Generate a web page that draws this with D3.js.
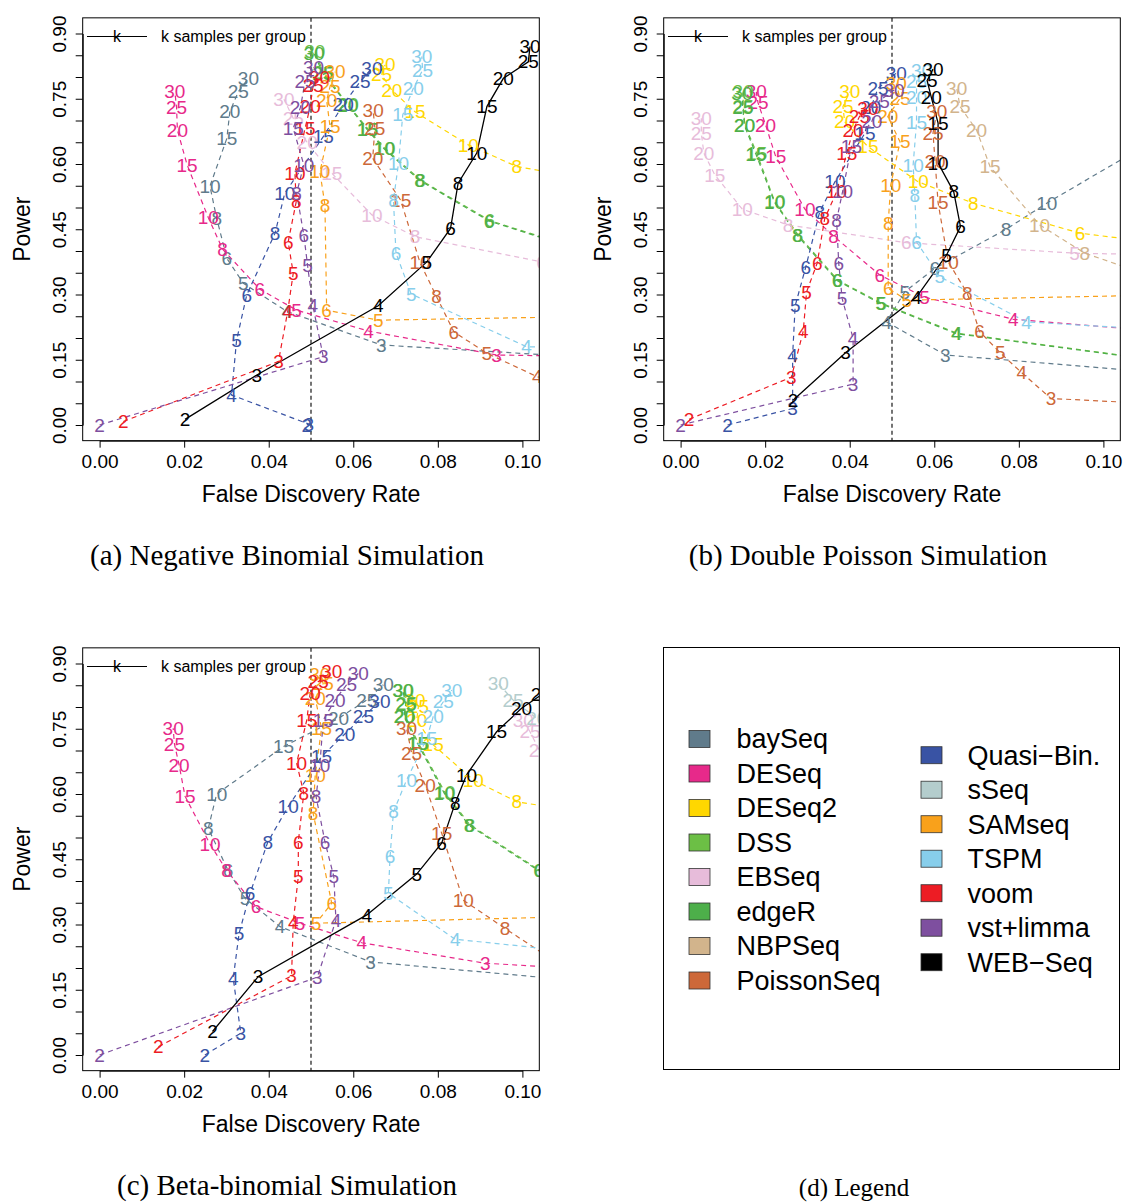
<!DOCTYPE html>
<html>
<head>
<meta charset="utf-8">
<script src="https://cdn.jsdelivr.net/npm/d3@7"></script>
<style>
  body { margin: 0; background: #fff; }
  svg { display: block; font-family: 'Liberation Sans', Arial, sans-serif; }
  .caption { font-family: 'Liberation Serif', 'Times New Roman', serif; }
</style>
</head>
<body>
<div id="chart"></div>
<script>
// methods, in legend order, and their colours
const methods = ['baySeq', 'DESeq', 'DESeq2', 'DSS', 'EBSeq', 'edgeR', 'NBPSeq', 'PoissonSeq',
  'Quasi−Bin.', 'sSeq', 'SAMseq', 'TSPM', 'voom', 'vst+limma', 'WEB−Seq'];
const colors = ['#607B8B', '#E7298A', '#FFD700', '#6CBF45', '#E7BCDA', '#4DAF4A', '#D2B48C', '#CD6839',
  '#3953A4', '#B4CDCD', '#F9A11B', '#87CEEB', '#ED1C24', '#7E4F9F', '#000000'];

const fdrTicks = [0, 0.02, 0.04, 0.06, 0.08, 0.10];
const powerTicks = [0, 0.05, 0.10, 0.15, 0.20, 0.25, 0.30, 0.35, 0.40, 0.45, 0.50,
  0.55, 0.60, 0.65, 0.70, 0.75, 0.80, 0.85, 0.90];
const powerLabels = [0, 0.15, 0.30, 0.45, 0.60, 0.75, 0.90];

// [k, FDR, power] per method
const negBinomial = {
  'baySeq': [[2, 0.125, 0.15], [3, 0.0666, 0.184], [4, 0.0443, 0.261], [5, 0.034, 0.326], [6, 0.0301, 0.383], [8, 0.0277, 0.475], [10, 0.0261, 0.549], [15, 0.0301, 0.659], [20, 0.0308, 0.720], [25, 0.0328, 0.766], [30, 0.0352, 0.797]],
  'DESeq': [[2, 0.13, 0.155], [3, 0.0939, 0.161], [4, 0.0636, 0.216], [5, 0.0466, 0.264], [6, 0.0379, 0.312], [8, 0.0291, 0.404], [10, 0.0257, 0.477], [15, 0.0207, 0.598], [20, 0.0184, 0.678], [25, 0.0182, 0.730], [30, 0.0178, 0.766]],
  'DESeq2': [[6, 0.125, 0.55], [8, 0.0987, 0.594], [10, 0.0872, 0.644], [15, 0.0746, 0.720], [20, 0.0691, 0.770], [25, 0.0667, 0.805], [30, 0.0675, 0.828]],
  'DSS': [[5, 0.115, 0.40], [6, 0.0923, 0.470], [8, 0.0759, 0.563], [10, 0.0675, 0.636], [15, 0.0635, 0.68], [20, 0.0588, 0.736], [25, 0.053, 0.81], [30, 0.0509, 0.858]],
  'EBSeq': [[5, 0.12, 0.34], [6, 0.1045, 0.375], [8, 0.0746, 0.433], [10, 0.0644, 0.483], [15, 0.0549, 0.579], [20, 0.0491, 0.649], [25, 0.0458, 0.705], [30, 0.0436, 0.749]],
  'edgeR': [[5, 0.1148, 0.399], [6, 0.0921, 0.469], [8, 0.0757, 0.562], [10, 0.0673, 0.635], [15, 0.0633, 0.679], [20, 0.0587, 0.735], [25, 0.0528, 0.808], [30, 0.0507, 0.855]],
  'PoissonSeq': [[3, 0.115, 0.08], [4, 0.1035, 0.111], [5, 0.0916, 0.165], [6, 0.0838, 0.214], [8, 0.0797, 0.295], [10, 0.0758, 0.373], [15, 0.0712, 0.517], [20, 0.0646, 0.613], [25, 0.0651, 0.682], [30, 0.0647, 0.724]],
  'Quasi−Bin.': [[2, 0.049, 0.0], [3, 0.0495, 0.002], [4, 0.0312, 0.069], [5, 0.0324, 0.195], [6, 0.0348, 0.299], [8, 0.0415, 0.441], [10, 0.0438, 0.533], [15, 0.0529, 0.663], [20, 0.0576, 0.736], [25, 0.0616, 0.789], [30, 0.0644, 0.820]],
  'SAMseq': [[4, 0.12, 0.25], [5, 0.0659, 0.241], [6, 0.0537, 0.264], [8, 0.0533, 0.506], [10, 0.0521, 0.582], [15, 0.0545, 0.686], [20, 0.0537, 0.746], [25, 0.0545, 0.778], [30, 0.0557, 0.812]],
  'TSPM': [[3, 0.12, 0.175], [4, 0.101, 0.180], [5, 0.0737, 0.301], [6, 0.0701, 0.395], [8, 0.0695, 0.517], [10, 0.0707, 0.602], [15, 0.0717, 0.713], [20, 0.0742, 0.774], [25, 0.0764, 0.816], [30, 0.0762, 0.847]],
  'voom': [[2, 0.0056, 0.008], [3, 0.0423, 0.146], [4, 0.0445, 0.262], [5, 0.0458, 0.349], [6, 0.0446, 0.421], [8, 0.0465, 0.513], [10, 0.0462, 0.579], [15, 0.0486, 0.682], [20, 0.0498, 0.732], [25, 0.0505, 0.78], [30, 0.052, 0.80]],
  'vst+limma': [[2, 0.0, 0.0], [3, 0.0529, 0.157], [4, 0.0504, 0.276], [5, 0.0492, 0.366], [6, 0.0483, 0.437], [8, 0.0466, 0.533], [10, 0.0483, 0.598], [15, 0.0458, 0.682], [20, 0.0475, 0.73], [25, 0.0486, 0.789], [30, 0.0506, 0.822]],
  'WEB−Seq': [[2, 0.0202, 0.013], [3, 0.0372, 0.115], [4, 0.0659, 0.274], [5, 0.0774, 0.375], [6, 0.0830, 0.452], [8, 0.0848, 0.556], [10, 0.0892, 0.625], [15, 0.0916, 0.732], [20, 0.0955, 0.797], [25, 0.1014, 0.835], [30, 0.1018, 0.870]],
};

const doublePoisson = {
  'baySeq': [[2, 0.12, 0.115], [3, 0.0626, 0.161], [4, 0.0487, 0.237], [5, 0.0530, 0.306], [6, 0.0601, 0.360], [8, 0.0770, 0.450], [10, 0.0866, 0.510], [15, 0.12, 0.70]],
  'DESeq': [[3, 0.12, 0.21], [4, 0.0787, 0.243], [5, 0.0577, 0.294], [6, 0.0471, 0.345], [8, 0.0362, 0.434], [10, 0.0294, 0.496], [15, 0.0225, 0.617], [20, 0.0201, 0.690], [25, 0.0183, 0.741], [30, 0.0179, 0.766]],
  'DESeq2': [[5, 0.12, 0.41], [6, 0.0945, 0.441], [8, 0.0692, 0.510], [10, 0.0562, 0.559], [15, 0.0443, 0.640], [20, 0.0388, 0.697], [25, 0.0384, 0.732], [30, 0.040, 0.766]],
  'DSS': [[3, 0.12, 0.14], [4, 0.0654, 0.211], [5, 0.0475, 0.280], [6, 0.0372, 0.333], [8, 0.0278, 0.437], [10, 0.0223, 0.513], [15, 0.018, 0.625], [20, 0.0152, 0.690], [25, 0.0148, 0.732], [30, 0.0148, 0.766]],
  'EBSeq': [[4, 0.12, 0.39], [5, 0.0932, 0.395], [6, 0.0534, 0.419], [8, 0.0254, 0.460], [10, 0.0146, 0.496], [15, 0.0081, 0.575], [20, 0.0055, 0.625], [25, 0.0049, 0.671], [30, 0.0049, 0.705]],
  'edgeR': [[3, 0.12, 0.139], [4, 0.0652, 0.210], [5, 0.0473, 0.279], [6, 0.0370, 0.332], [8, 0.0276, 0.436], [10, 0.0222, 0.512], [15, 0.0178, 0.623], [20, 0.0151, 0.688], [25, 0.0147, 0.731], [30, 0.0145, 0.763]],
  'NBPSeq': [[6, 0.115, 0.33], [8, 0.0956, 0.395], [10, 0.0849, 0.460], [15, 0.0732, 0.594], [20, 0.0700, 0.678], [25, 0.0661, 0.732], [30, 0.0653, 0.774]],
  'PoissonSeq': [[2, 0.12, 0.045], [3, 0.0876, 0.061], [4, 0.0807, 0.120], [5, 0.0756, 0.166], [6, 0.0707, 0.215], [8, 0.0678, 0.303], [10, 0.0633, 0.375], [15, 0.0609, 0.511], [20, 0.0602, 0.605], [25, 0.0597, 0.671], [30, 0.0606, 0.720]],
  'Quasi−Bin.': [[2, 0.0111, 0.0], [3, 0.0265, 0.038], [4, 0.0265, 0.161], [5, 0.0271, 0.274], [6, 0.0296, 0.363], [8, 0.0329, 0.490], [10, 0.0365, 0.559], [15, 0.0436, 0.671], [20, 0.045, 0.73], [25, 0.0467, 0.774], [30, 0.0510, 0.809]],
  'SAMseq': [[4, 0.12, 0.30], [5, 0.0535, 0.287], [6, 0.0491, 0.314], [8, 0.0491, 0.464], [10, 0.0497, 0.552], [15, 0.0519, 0.651], [20, 0.049, 0.709], [25, 0.0519, 0.751], [30, 0.051, 0.785]],
  'TSPM': [[3, 0.12, 0.215], [4, 0.0818, 0.237], [5, 0.0613, 0.341], [6, 0.0558, 0.421], [8, 0.0554, 0.529], [10, 0.055, 0.598], [15, 0.0558, 0.695], [20, 0.0558, 0.753], [25, 0.0558, 0.789], [30, 0.057, 0.816]],
  'voom': [[2, 0.002, 0.013], [3, 0.0262, 0.110], [4, 0.0290, 0.215], [5, 0.0298, 0.306], [6, 0.0323, 0.372], [8, 0.0341, 0.475], [10, 0.0369, 0.536], [15, 0.0393, 0.625], [20, 0.0408, 0.678], [25, 0.0423, 0.709], [30, 0.0443, 0.728]],
  'vst+limma': [[2, 0.0, 0.0], [3, 0.0408, 0.094], [4, 0.0408, 0.199], [5, 0.0382, 0.291], [6, 0.0374, 0.372], [8, 0.0369, 0.471], [10, 0.0383, 0.536], [15, 0.0404, 0.640], [20, 0.0452, 0.697], [25, 0.047, 0.745], [30, 0.0505, 0.77]],
  'WEB−Seq': [[2, 0.0266, 0.057], [3, 0.0390, 0.166], [4, 0.0558, 0.294], [5, 0.0629, 0.391], [6, 0.0662, 0.456], [8, 0.0646, 0.536], [10, 0.0609, 0.602], [15, 0.0609, 0.694], [20, 0.0593, 0.753], [25, 0.0583, 0.792], [30, 0.0597, 0.818]],
};

const betaBinomial = {
  'baySeq': [[2, 0.12, 0.165], [3, 0.0641, 0.214], [4, 0.0427, 0.295], [5, 0.0344, 0.360], [6, 0.0304, 0.424], [8, 0.0257, 0.521], [10, 0.0277, 0.600], [15, 0.0435, 0.709], [20, 0.0565, 0.774], [25, 0.0632, 0.816], [30, 0.0671, 0.851]],
  'DESeq': [[2, 0.12, 0.195], [3, 0.0912, 0.211], [4, 0.0620, 0.258], [5, 0.0474, 0.303], [6, 0.0370, 0.341], [8, 0.030, 0.425], [10, 0.0261, 0.485], [15, 0.0202, 0.595], [20, 0.0188, 0.667], [25, 0.0177, 0.715], [30, 0.0174, 0.751]],
  'DESeq2': [[6, 0.12, 0.55], [8, 0.0987, 0.582], [10, 0.0884, 0.632], [15, 0.0789, 0.713], [20, 0.075, 0.770], [25, 0.0754, 0.801], [30, 0.0746, 0.816]],
  'DSS': [[5, 0.115, 0.38], [6, 0.104, 0.425], [8, 0.0876, 0.529], [10, 0.0817, 0.603], [15, 0.0754, 0.717], [20, 0.0722, 0.779], [25, 0.0726, 0.808], [30, 0.0719, 0.839]],
  'EBSeq': [[15, 0.115, 0.64], [20, 0.104, 0.701], [25, 0.1018, 0.743], [30, 0.1002, 0.770]],
  'edgeR': [[5, 0.1145, 0.379], [6, 0.1038, 0.424], [8, 0.0874, 0.528], [10, 0.0815, 0.602], [15, 0.0752, 0.716], [20, 0.0720, 0.778], [25, 0.0724, 0.807], [30, 0.0717, 0.838]],
  'PoissonSeq': [[6, 0.11, 0.2], [8, 0.0959, 0.291], [10, 0.086, 0.356], [15, 0.0809, 0.510], [20, 0.077, 0.621], [25, 0.0738, 0.694], [30, 0.0726, 0.751]],
  'Quasi−Bin.': [[2, 0.0249, 0.0], [3, 0.0334, 0.050], [4, 0.0316, 0.176], [5, 0.0330, 0.280], [6, 0.0356, 0.372], [8, 0.0398, 0.490], [10, 0.0446, 0.571], [15, 0.0525, 0.686], [20, 0.058, 0.738], [25, 0.0624, 0.779], [30, 0.0663, 0.812]],
  'sSeq': [[15, 0.115, 0.73], [20, 0.1034, 0.774], [25, 0.0978, 0.816], [30, 0.0943, 0.854]],
  'SAMseq': [[4, 0.12, 0.32], [5, 0.0512, 0.303], [6, 0.0549, 0.349], [8, 0.0505, 0.556], [10, 0.051, 0.644], [15, 0.0525, 0.751], [20, 0.051, 0.820], [25, 0.0529, 0.854], [30, 0.0521, 0.874]],
  'TSPM': [[3, 0.12, 0.23], [4, 0.0841, 0.266], [5, 0.0683, 0.372], [6, 0.0687, 0.456], [8, 0.0695, 0.559], [10, 0.0726, 0.632], [15, 0.0774, 0.728], [20, 0.0789, 0.778], [25, 0.0813, 0.812], [30, 0.0833, 0.839]],
  'voom': [[2, 0.0139, 0.019], [3, 0.0454, 0.182], [4, 0.0458, 0.306], [5, 0.0470, 0.410], [6, 0.0470, 0.490], [8, 0.0483, 0.602], [10, 0.0466, 0.671], [15, 0.049, 0.770], [20, 0.0498, 0.832], [25, 0.0517, 0.858], [30, 0.0549, 0.881]],
  'vst+limma': [[2, 0.0, 0.0], [3, 0.0515, 0.179], [4, 0.0559, 0.310], [5, 0.0554, 0.410], [6, 0.0533, 0.490], [8, 0.0512, 0.594], [10, 0.0521, 0.667], [15, 0.0529, 0.770], [20, 0.0557, 0.816], [25, 0.0584, 0.851], [30, 0.0612, 0.877]],
  'WEB−Seq': [[2, 0.0267, 0.054], [3, 0.0375, 0.180], [4, 0.0632, 0.322], [5, 0.075, 0.416], [6, 0.0809, 0.487], [8, 0.0841, 0.579], [10, 0.0868, 0.644], [15, 0.0939, 0.743], [20, 0.0998, 0.797], [25, 0.1045, 0.828], [30, 0.108, 0.86]],
};

const captions = ['(a) Negative Binomial Simulation', '(b) Double Poisson Simulation',
  '(c) Beta-binomial Simulation', '(d) Legend'];

const svg = d3.select('#chart')
  .append('svg')
  .attr('width', 1124)
  .attr('height', 1203);

const colorOf = d3.scaleOrdinal().domain(methods).range(colors);

function drawPanel(data, dx, dy, id, caption) {
  const g = svg.append('g').attr('transform', `translate(${dx}, ${dy})`);

  const x = d3.scaleLinear().domain([0, 0.1]).range([99.6, 522.4]);
  const y = d3.scaleLinear().domain([0, 0.9]).range([425, 33.5]);
  const box = { x0: x(-0.004), x1: x(0.104), y0: y(0.936), y1: y(-0.036) };

  g.append('clipPath')
    .attr('id', `clip-${id}`)
    .append('rect')
      .attr('x', box.x0)
      .attr('y', box.y0)
      .attr('width', box.x1 - box.x0)
      .attr('height', box.y1 - box.y0);

  // x axis
  const axisX = d3.axisBottom(x)
    .tickValues(fdrTicks)
    .tickFormat(d3.format('.2f'))
    .tickSize(7)
    .tickSizeOuter(0);
  const gx = g.append('g')
    .attr('transform', `translate(0, ${box.y1})`)
    .call(axisX);
  gx.selectAll('text')
    .attr('y', 14)
    .attr('font-size', 19)
    .attr('font-family', "'Liberation Sans', Arial, sans-serif")
    .attr('fill', '#000');

  // y axis, labels every third tick
  const axisY = d3.axisLeft(y)
    .tickValues(powerTicks)
    .tickFormat(d => (powerLabels.some(v => Math.abs(v - d) < 1e-6) ? d3.format('.2f')(d) : ''))
    .tickSize(7)
    .tickSizeOuter(0);
  const gy = g.append('g')
    .attr('transform', `translate(${box.x0}, 0)`)
    .call(axisY);
  gy.selectAll('text')
    .attr('transform', 'rotate(-90)')
    .attr('x', 0)
    .attr('y', -17)
    .attr('dy', 0)
    .attr('text-anchor', 'middle')
    .attr('font-size', 19)
    .attr('font-family', "'Liberation Sans', Arial, sans-serif")
    .attr('fill', '#000');
  g.selectAll('.domain').attr('stroke', '#000');
  g.selectAll('.tick line').attr('stroke', '#000');

  // axis titles
  g.append('text')
    .attr('x', (box.x0 + box.x1) / 2)
    .attr('y', 502)
    .attr('text-anchor', 'middle')
    .attr('font-size', 23)
    .text('False Discovery Rate');
  g.append('text')
    .attr('transform', `translate(30, ${(box.y0 + box.y1) / 2}) rotate(-90)`)
    .attr('text-anchor', 'middle')
    .attr('font-size', 23)
    .text('Power');

  const plot = g.append('g').attr('clip-path', `url(#clip-${id})`);

  // FDR = 0.05 reference line
  plot.append('line')
    .attr('x1', x(0.05))
    .attr('x2', x(0.05))
    .attr('y1', box.y0)
    .attr('y2', box.y1)
    .attr('stroke', '#000')
    .attr('stroke-width', 1.1)
    .attr('stroke-dasharray', '4,3');

  const line = d3.line()
    .x(d => x(d[1]))
    .y(d => y(d[2]));

  const series = methods.filter(m => data[m]);

  series.forEach(m => {
    plot.append('path')
      .datum(data[m])
      .attr('d', line)
      .attr('fill', 'none')
      .attr('stroke', colorOf(m))
      .attr('stroke-width', m === 'WEB−Seq' ? 1.3 : 1.2)
      .attr('stroke-dasharray', m === 'WEB−Seq' ? null : '5,4');
  });

  // labels of points beyond the plot edge are not drawn (they would be clipped away)
  series.forEach(m => {
    plot.append('g')
      .selectAll('text')
      .data(data[m].filter(d => d[1] <= 0.106))
      .enter()
      .append('text')
        .attr('x', d => x(d[1]))
        .attr('y', d => y(d[2]))
        .attr('dy', '0.35em')
        .attr('text-anchor', 'middle')
        .attr('font-size', 19)
        .attr('fill', colorOf(m))
        .text(d => d[0]);
  });

  // box
  g.append('rect')
    .attr('x', box.x0)
    .attr('y', box.y0)
    .attr('width', box.x1 - box.x0)
    .attr('height', box.y1 - box.y0)
    .attr('fill', 'none')
    .attr('stroke', '#000')
    .attr('stroke-width', 1);

  // inset key
  g.append('line')
    .attr('x1', 87).attr('x2', 147)
    .attr('y1', 36.5).attr('y2', 36.5)
    .attr('stroke', '#000')
    .attr('stroke-width', 1.1);
  g.append('text')
    .attr('x', 117).attr('y', 36.5)
    .attr('dy', '0.35em')
    .attr('text-anchor', 'middle')
    .attr('font-size', 16)
    .text('k');
  g.append('text')
    .attr('x', 161).attr('y', 36.5)
    .attr('dy', '0.35em')
    .attr('font-size', 16)
    .text('k samples per group');

  g.append('text')
    .attr('class', 'caption')
    .attr('x', 287)
    .attr('y', 565)
    .attr('text-anchor', 'middle')
    .attr('font-size', 29)
    .text(caption);
}

drawPanel(negBinomial, 0, 0, 'a', captions[0]);
drawPanel(doublePoisson, 581, 0, 'b', captions[1]);
drawPanel(betaBinomial, 0, 630, 'c', captions[2]);

// legend panel
const legend = svg.append('g');
legend.append('rect')
  .attr('x', 663.5)
  .attr('y', 647.5)
  .attr('width', 456)
  .attr('height', 422)
  .attr('fill', 'none')
  .attr('stroke', '#000')
  .attr('stroke-width', 1);

const rowY = d3.scaleLinear().domain([0, 1]).range([739, 773.5]);
const columns = [
  { items: methods.slice(0, 8), sx: 689, tx: 736.5, offset: 0 },
  { items: methods.slice(8), sx: 921, tx: 967.5, offset: 0.47 },
];
columns.forEach(col => {
  const rows = legend.append('g')
    .selectAll('g')
    .data(col.items)
    .enter()
    .append('g')
      .attr('transform', (d, i) => `translate(0, ${rowY(i + col.offset)})`);
  rows.append('rect')
    .attr('x', col.sx)
    .attr('y', -8.5)
    .attr('width', 21)
    .attr('height', 17)
    .attr('fill', d => colorOf(d))
    .attr('stroke', '#333')
    .attr('stroke-width', 0.8);
  rows.append('text')
    .attr('x', col.tx)
    .attr('dy', '0.35em')
    .attr('font-size', 27)
    .text(d => d);
});

svg.append('text')
  .attr('class', 'caption')
  .attr('x', 854)
  .attr('y', 1196)
  .attr('text-anchor', 'middle')
  .attr('font-size', 25)
  .text(captions[3]);
</script>
</body>
</html>
